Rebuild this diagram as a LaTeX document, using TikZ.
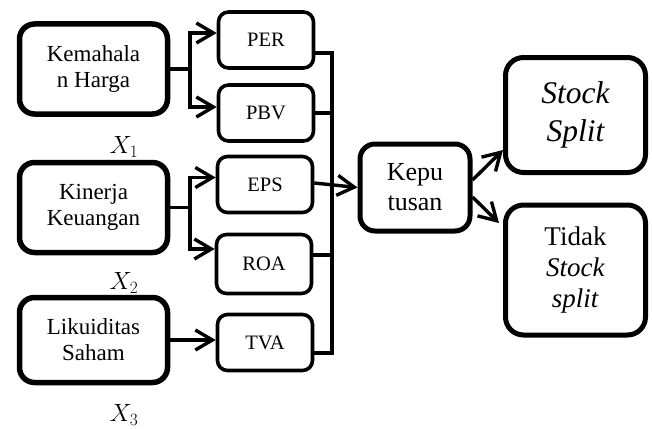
\documentclass[tikz,border=0pt]{standalone}
\usepackage{fontspec}
\setmainfont{Liberation Serif}
\usepackage{amsmath}
\usetikzlibrary{arrows.meta}

\begin{document}
\begin{tikzpicture}[x=1pt,y=-1pt,
    bigbox/.style={draw,line width=5.5pt,rounded corners=15pt,align=center,
      minimum width=148pt,inner sep=2pt},
    smallbox/.style={draw,line width=3.6pt,rounded corners=10pt,align=center,
      minimum width=95pt,minimum height=56pt,inner sep=2pt,
      font=\fontsize{20.5}{24}\selectfont},
    arr/.style={line width=3.4pt,-{Straight Barb[length=17pt,width=20pt]}},
    conn/.style={line width=3.4pt}]
    \def \busx {332}
    \useasboundingbox (0,0) rectangle (652,428);
    % left side: indicators
    \node[bigbox,minimum height=90pt,font=\fontsize{23}{26}\selectfont]
      (kem) at (93.5,69) {Kemahala\\n Harga};
    \node[bigbox,minimum height=90pt,font=\fontsize{23}{26}\selectfont]
      (kin) at (93.5,207.5) {Kinerja\\Keuangan};
    \node[bigbox,minimum height=85pt,font=\fontsize{23}{26}\selectfont]
      (liq) at (93.5,340) {Likuiditas\\Saham};
    \foreach \i/\y in {1/147,2/283,3/415}
      \node[font=\fontsize{23}{26}\selectfont] (x\i) at (124,\y) {$X_\i$};
    % ratios
    \node[smallbox] (per) at (266,40) {PER};
    \node[smallbox] (pbv) at (266,113) {PBV};
    \node[smallbox] (eps) at (265,184.5) {EPS};
    \node[smallbox,minimum height=59pt] (roa) at (264,264) {ROA};
    \node[smallbox] (tva) at (265,342.5) {TVA};
    % decision
    \node[bigbox,line width=5pt,minimum width=110pt,minimum height=87pt,
      font=\fontsize{26}{30}\selectfont] (kep) at (415,187.5) {Kepu\\tusan};
    \node[bigbox,line width=5pt,minimum width=140pt,minimum height=115pt,
      rounded corners=18pt,font=\fontsize{31.5}{38}\selectfont\itshape]
      (stk) at (575.5,115) {Stock\\Split};
    \node[bigbox,line width=5pt,minimum width=140pt,minimum height=130pt,
      rounded corners=18pt,font=\fontsize{27}{31}\selectfont]
      (tid) at (575.5,270) {Tidak\\\textit{Stock}\\\textit{split}};
    % branches to the ratios
    \coordinate (kemsplit) at (190,69);
    \coordinate (kinsplit) at (190,207.5);
    \draw[conn] (kem.east) -- (kemsplit);
    \draw[arr] (kemsplit) |- ([yshift=7pt]per.west);
    \draw[arr] (kemsplit) |- ([yshift=6pt]pbv.west);
    \draw[conn] (kin.east) -- (kinsplit);
    \draw[arr] (kinsplit) |- ([yshift=7pt]eps.west);
    \draw[arr] (kinsplit) |- ([yshift=15pt]roa.west);
    \draw[arr] (liq.east) -- (liq.east -| tva.west);
    % bus line
    \coordinate (busbot) at (\busx,353);
    \draw[conn] ([yshift=-13pt]per.east) -| (busbot) -- ([yshift=-10.5pt]tva.east);
    \draw[conn] (pbv.east) -- (pbv.east -| busbot);
    \draw[conn] ([yshift=9pt]roa.east) -- ([yshift=9pt]roa.east -| busbot);
    \draw[arr] ([yshift=1.5pt]eps.east) -- (kep.west);
    % outcomes
    \draw[arr] ([yshift=7.5pt]kep.east) -- ([yshift=-35pt]stk.west);
    \draw[arr] ([yshift=-9.5pt]kep.east) -- ([xshift=-4pt,yshift=47pt]tid.west);
\end{tikzpicture}
\end{document}
